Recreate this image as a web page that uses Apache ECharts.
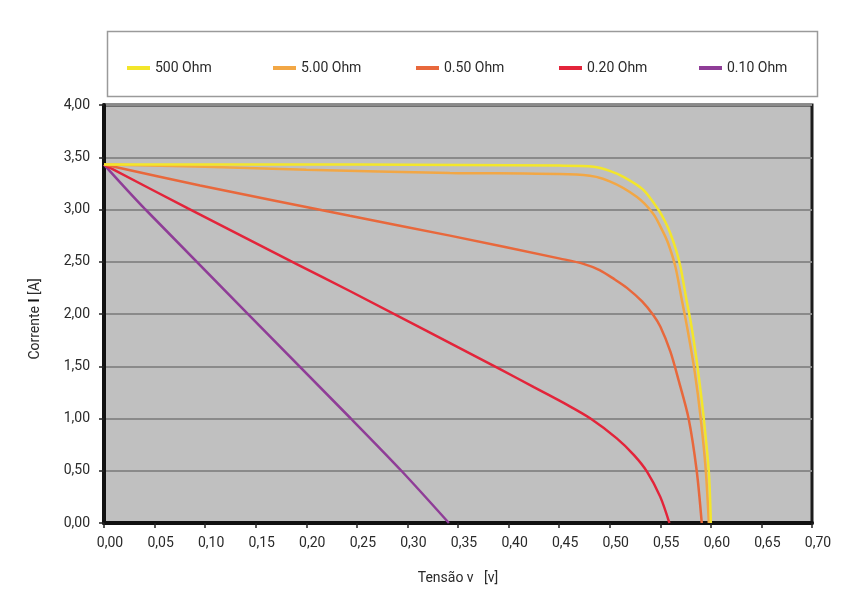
<!DOCTYPE html>
<html>
<head>
<meta charset="utf-8">
<script src="https://cdn.jsdelivr.net/npm/echarts@6/dist/echarts.min.js"></script>
<style>
html,body{margin:0;padding:0;background:#fff;}
#chart{width:855px;height:594px;}
</style>
</head>
<body>
<div id="chart"></div>
<script>
// Series names
const seriesNames = ['500 Ohm', '5.00 Ohm', '0.50 Ohm', '0.20 Ohm', '0.10 Ohm'];

// Voltage (V) / current (A) readings per curve
const v500 = [0, 0.25, 0.45, 0.484, 0.500, 0.514, 0.533, 0.548, 0.555, 0.560, 0.566, 0.570, 0.576, 0.580, 0.585, 0.589, 0.593, 0.598, 0.600];
const i500 = [3.43, 3.43, 3.42, 3.41, 3.37, 3.31, 3.19, 3.00, 2.88, 2.77, 2.60, 2.45, 2.13, 1.93, 1.62, 1.33, 1.00, 0.49, 0];

const v5 = [0, 0.10, 0.20, 0.342, 0.474, 0.500, 0.527, 0.543, 0.552, 0.558, 0.565, 0.571, 0.577, 0.584, 0.590, 0.595, 0.598];
const i5 = [3.43, 3.41, 3.38, 3.35, 3.33, 3.27, 3.12, 2.96, 2.80, 2.67, 2.45, 2.15, 1.85, 1.45, 1.00, 0.50, 0];

const v05 = [0, 0.095, 0.243, 0.342, 0.451, 0.474, 0.490, 0.505, 0.517, 0.532, 0.543, 0.550, 0.560, 0.568, 0.578, 0.586, 0.591];
const i05 = [3.43, 3.23, 2.94, 2.75, 2.53, 2.48, 2.42, 2.33, 2.25, 2.12, 1.99, 1.88, 1.64, 1.37, 1.00, 0.50, 0];

const v02 = [0, 0.083, 0.19, 0.243, 0.392, 0.425, 0.458, 0.481, 0.507, 0.524, 0.537, 0.550, 0.559];
const i02 = [3.43, 3.01, 2.48, 2.22, 1.47, 1.30, 1.13, 1.00, 0.81, 0.65, 0.49, 0.25, 0];

const v01 = [0, 0.041, 0.244, 0.294, 0.341];
const i01 = [3.43, 3.00, 1.00, 0.50, 0];

const colors = ['#f3e62a', '#f2a745', '#e8683c', '#e3243a', '#8f3d97'];

// Axis ticks
const xTicks = [0, 0.05, 0.10, 0.15, 0.20, 0.25, 0.30, 0.35, 0.40, 0.45, 0.50, 0.55, 0.60, 0.65, 0.70];
const yTicks = [0, 0.5, 1.0, 1.5, 2.0, 2.5, 3.0, 3.5, 4.0];

const FONT = "Roboto, 'Liberation Sans', sans-serif";

const pairs = (xs, ys) => xs.map((x, k) => [x, ys[k]]);
const seriesData = [pairs(v500, i500), pairs(v5, i5), pairs(v05, i05), pairs(v02, i02), pairs(v01, i01)];

const legendLeft = [122, 268, 411, 554, 694];

const chart = echarts.init(document.getElementById('chart'), null, {renderer: 'canvas'});
const fmt = v => v.toFixed(2).replace('.', ',');

chart.setOption({
  backgroundColor: '#ffffff',
  animation: false,
  graphic: [{
    type: 'rect', z: -1, silent: true,
    shape: {x: 107.5, y: 31.5, width: 710, height: 65},
    style: {fill: '#ffffff', stroke: '#9a9a9a', lineWidth: 1.5}
  }],
  legend: seriesNames.map((n, k) => ({
    data: [n],
    left: legendLeft[k],
    top: 56,
    icon: 'rect',
    itemWidth: 23,
    itemHeight: 4,
    itemGap: 10,
    textStyle: {fontFamily: FONT, fontSize: 14, color: '#2a2a2a'}
  })),
  grid: {
    left: 104, right: 43, top: 105, bottom: 71,
    show: true, backgroundColor: '#c0c0c0', borderColor: '#1c1c1c', borderWidth: 3
  },
  xAxis: {
    type: 'value', min: 0, max: 0.70, interval: 0.05,
    name: 'Tensão v   [v]', nameLocation: 'middle', nameGap: 48,
    nameTextStyle: {fontFamily: FONT, fontSize: 14, color: '#2a2a2a'},
    axisLine: {show: true, lineStyle: {color: '#111', width: 4}},
    axisTick: {show: true, length: 5, lineStyle: {color: '#222', width: 1.5}},
    splitLine: {show: false},
    axisLabel: {
      fontFamily: FONT, fontSize: 14, color: '#2a2a2a', margin: 13,
      padding: [0, 0, 0, 12],
      formatter: v => xTicks.some(t => Math.abs(t - v) < 1e-9) ? fmt(v) : ''
    }
  },
  yAxis: {
    type: 'value', min: 0, max: 4, interval: 0.5,
    name: '{a|Corrente }{b|I}{a| [A]}', nameLocation: 'middle', nameGap: 62,
    nameTextStyle: {
      fontFamily: FONT, fontSize: 14, color: '#2a2a2a', padding: [0, 10, 0, 0],
      rich: {a: {fontFamily: FONT, fontSize: 14, color: '#2a2a2a'}, b: {fontFamily: FONT, fontSize: 14, fontWeight: 'bold', color: '#111'}}
    },
    axisLine: {show: true, lineStyle: {color: '#111', width: 4}},
    axisTick: {show: true, length: 5, lineStyle: {color: '#222', width: 1.5}},
    splitLine: {show: true, lineStyle: {color: '#8a8a8a', width: 2}},
    axisLabel: {
      fontFamily: FONT, fontSize: 14, color: '#2a2a2a', margin: 14,
      formatter: v => yTicks.some(t => Math.abs(t - v) < 1e-9) ? fmt(v) : ''
    }
  },
  series: seriesNames.map((n, k) => ({
    name: n,
    type: 'line',
    data: seriesData[k],
    smooth: 0.3,
    showSymbol: false,
    symbol: 'none',
    z: 10 - k,
    lineStyle: {color: colors[k], width: 2.5},
    itemStyle: {color: colors[k]}
  }))
});
</script>
</body>
</html>
